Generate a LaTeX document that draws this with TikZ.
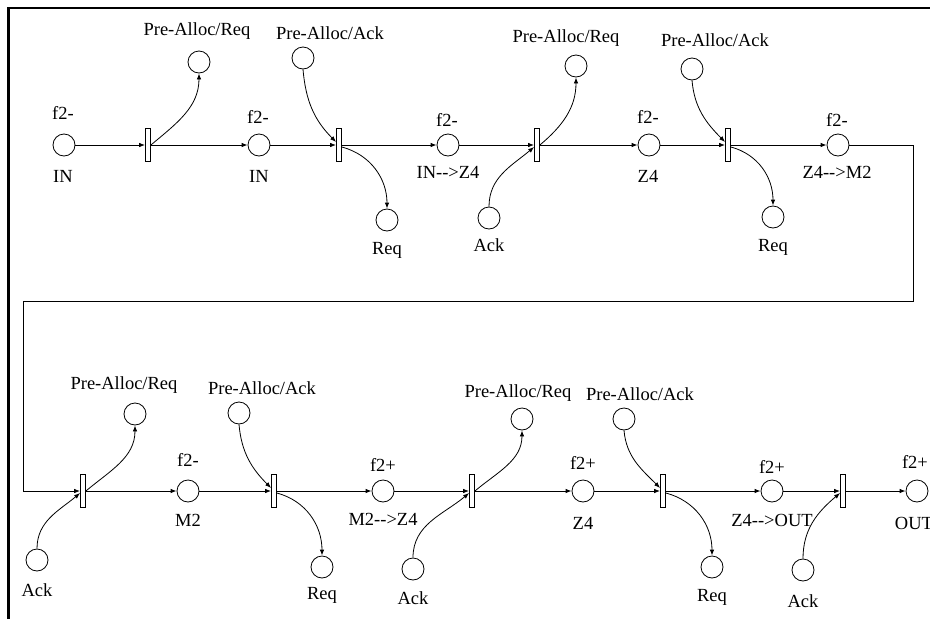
\documentclass[tikz,border=0pt]{standalone}
\usepackage{fontspec}
\setmainfont{Liberation Serif}
\usetikzlibrary{arrows.meta}
\begin{document}
\begin{tikzpicture}[x=1pt,y=1pt,
  place/.style={circle,draw,line width=0.8pt,minimum size=22pt,inner sep=0pt},
  trans/.style={rectangle,draw,fill=white,line width=0.8pt,minimum width=5pt,minimum height=33pt,inner sep=0pt},
  lbl/.style={inner sep=0pt,font=\fontsize{18.5}{20}\selectfont},
  arr/.style={line width=0.8pt,-{Latex[length=6pt,width=4.5pt]}},
  conn/.style={line width=0.8pt},
  frame/.style={line width=2.5pt}]
\useasboundingbox (0,0) rectangle (930,-619);
% outer frame (only top and left visible)
\coordinate (fa) at (8.5,-640);
\coordinate (fb) at (950,-8);
\draw[frame] (fa) |- (fb);
% ---------------- top row ----------------
\node[place] (p1) at (64,-145) {};
\node[lbl] (p1a) at (63,-113) {f2-};
\node[lbl] (p1b) at (63,-176) {IN};
\node[trans] (t1) at (148,-145) {};
\node[place] (pr1) at (199,-62) {};
\node[lbl] (pr1l) at (197,-31) {Pre-Alloc/Req};
\node[place] (p2) at (259,-145) {};
\node[lbl] (p2a) at (258,-117) {f2-};
\node[lbl] (p2b) at (259,-176) {IN};
\node[trans] (t2) at (339,-145) {};
\node[place] (pa1) at (303,-58) {};
\node[lbl] (pa1l) at (330,-33) {Pre-Alloc/Ack};
\node[place] (rq1) at (387,-220) {};
\node[lbl] (rq1l) at (387,-250) {Req};
\node[place] (p3) at (448,-145) {};
\node[lbl] (p3a) at (447,-120) {f2-};
\node[lbl] (p3b) at (448,-172) {IN-{}->Z4};
\node[trans] (t3) at (537,-145) {};
\node[place] (pr2) at (576,-66) {};
\node[lbl] (pr2l) at (566,-38) {Pre-Alloc/Req};
\node[place] (ak1) at (489,-218) {};
\node[lbl] (ak1l) at (489,-245) {Ack};
\node[place] (p4) at (649,-145) {};
\node[lbl] (p4a) at (648,-117) {f2-};
\node[lbl] (p4b) at (648,-176) {Z4};
\node[trans] (t4) at (728,-145) {};
\node[place] (pa2) at (692,-69) {};
\node[lbl] (pa2l) at (715,-40) {Pre-Alloc/Ack};
\node[place] (rq2) at (773,-217) {};
\node[lbl] (rq2l) at (773,-247) {Req};
\node[place] (p5) at (838,-145) {};
\node[lbl] (p5a) at (837,-120) {f2-};
\node[lbl] (p5b) at (837,-172) {Z4-{}->M2};
% ---------------- bottom row ----------------
\node[trans] (t5) at (83,-491) {};
\node[place] (pr3) at (135,-414) {};
\node[lbl] (pr3l) at (124,-385) {Pre-Alloc/Req};
\node[place] (ak2) at (37,-560) {};
\node[lbl] (ak2l) at (37,-590) {Ack};
\node[place] (p6) at (188,-491) {};
\node[lbl] (p6a) at (188,-460) {f2-};
\node[lbl] (p6b) at (188,-520) {M2};
\node[trans] (t6) at (274,-491) {};
\node[place] (pa3) at (239,-413) {};
\node[lbl] (pa3l) at (262,-388) {Pre-Alloc/Ack};
\node[place] (rq3) at (322,-567) {};
\node[lbl] (rq3l) at (322,-595) {Req};
\node[place] (p7) at (383,-491) {};
\node[lbl] (p7a) at (383,-465) {f2+};
\node[lbl] (p7b) at (383,-519) {M2-{}->Z4};
\node[trans] (t7) at (472,-491) {};
\node[place] (ak3) at (413,-569) {};
\node[lbl] (ak3l) at (413,-598) {Ack};
\node[place] (pr4) at (522,-419) {};
\node[lbl] (pr4l) at (518,-393) {Pre-Alloc/Req};
\node[place] (p8) at (583,-491) {};
\node[lbl] (p8a) at (583,-463) {f2+};
\node[lbl] (p8b) at (583,-523) {Z4};
\node[trans] (t8) at (663,-491) {};
\node[place] (pa4) at (624,-419) {};
\node[lbl] (pa4l) at (640,-394) {Pre-Alloc/Ack};
\node[place] (rq4) at (712,-567) {};
\node[lbl] (rq4l) at (712,-597) {Req};
\node[place] (p9) at (772,-491) {};
\node[lbl] (p9a) at (772,-467) {f2+};
\node[lbl] (p9b) at (772,-520) {Z4-{}->OUT};
\node[trans] (t9) at (843,-491) {};
\node[place] (ak4) at (803,-570) {};
\node[lbl] (ak4l) at (803,-601) {Ack};
\node[place] (p10) at (917,-491) {};
\node[lbl] (p10a) at (915,-462) {f2+};
\node[lbl] (p10b) at (914,-523) {OUT};
% ---------------- main flow ----------------
\draw[arr] (p1) -- (t1);
\draw[arr] (t1) -- (p2);
\draw[arr] (p2) -- (t2);
\draw[arr] (t2) -- (p3);
\draw[arr] (p3) -- (t3);
\draw[arr] (t3) -- (p4);
\draw[arr] (p4) -- (t4);
\draw[arr] (t4) -- (p5);
\coordinate (c1) at (913,-145);
\coordinate (c2) at (913,-301);
\coordinate (c3) at (23,-301);
\coordinate (c4) at (23,-491);
\draw[conn] (p5.east) -- (c1) -- (c2) -- (c3) -- (c4);
\draw[arr] (c4) -- (t5.west);
\draw[arr] (t5) -- (p6);
\draw[arr] (p6) -- (t6);
\draw[arr] (t6) -- (p7);
\draw[arr] (p7) -- (t7);
\draw[arr] (t7) -- (p8);
\draw[arr] (p8) -- (t8);
\draw[arr] (t8) -- (p9);
\draw[arr] (p9) -- (t9);
\draw[arr] (t9) -- (p10);
% ---------------- side arcs ----------------
\draw[arr] (t1.east) to[out=40,in=-90] (pr1.south);
\draw[arr] (pa1.south) to[out=-85,in=135] ([yshift=3pt]t2.west);
\draw[arr] ([yshift=-2pt]t2.east) to[out=-15,in=90] (rq1.north);
\draw[arr] (ak1.north) to[out=90,in=-140] ([yshift=-2pt]t3.west);
\draw[arr] (t3.east) to[out=40,in=-90] (pr2.south);
\draw[arr] (pa2.south) to[out=-85,in=135] ([yshift=3pt]t4.west);
\draw[arr] ([yshift=-2pt]t4.east) to[out=-15,in=90] (rq2.north);
\draw[arr] (ak2.north) to[out=90,in=-140] ([yshift=-2pt]t5.west);
\draw[arr] (t5.east) to[out=40,in=-90] (pr3.south);
\draw[arr] (pa3.south) to[out=-85,in=135] ([yshift=3pt]t6.west);
\draw[arr] ([yshift=-2pt]t6.east) to[out=-15,in=90] (rq3.north);
\draw[arr] (ak3.north) to[out=90,in=-140] ([yshift=-2pt]t7.west);
\draw[arr] (t7.east) to[out=40,in=-90] (pr4.south);
\draw[arr] (pa4.south) to[out=-85,in=135] ([yshift=3pt]t8.west);
\draw[arr] ([yshift=-2pt]t8.east) to[out=-15,in=90] (rq4.north);
\draw[arr] (ak4.north) to[out=90,in=-140] ([yshift=-2pt]t9.west);
\end{tikzpicture}
\end{document}
